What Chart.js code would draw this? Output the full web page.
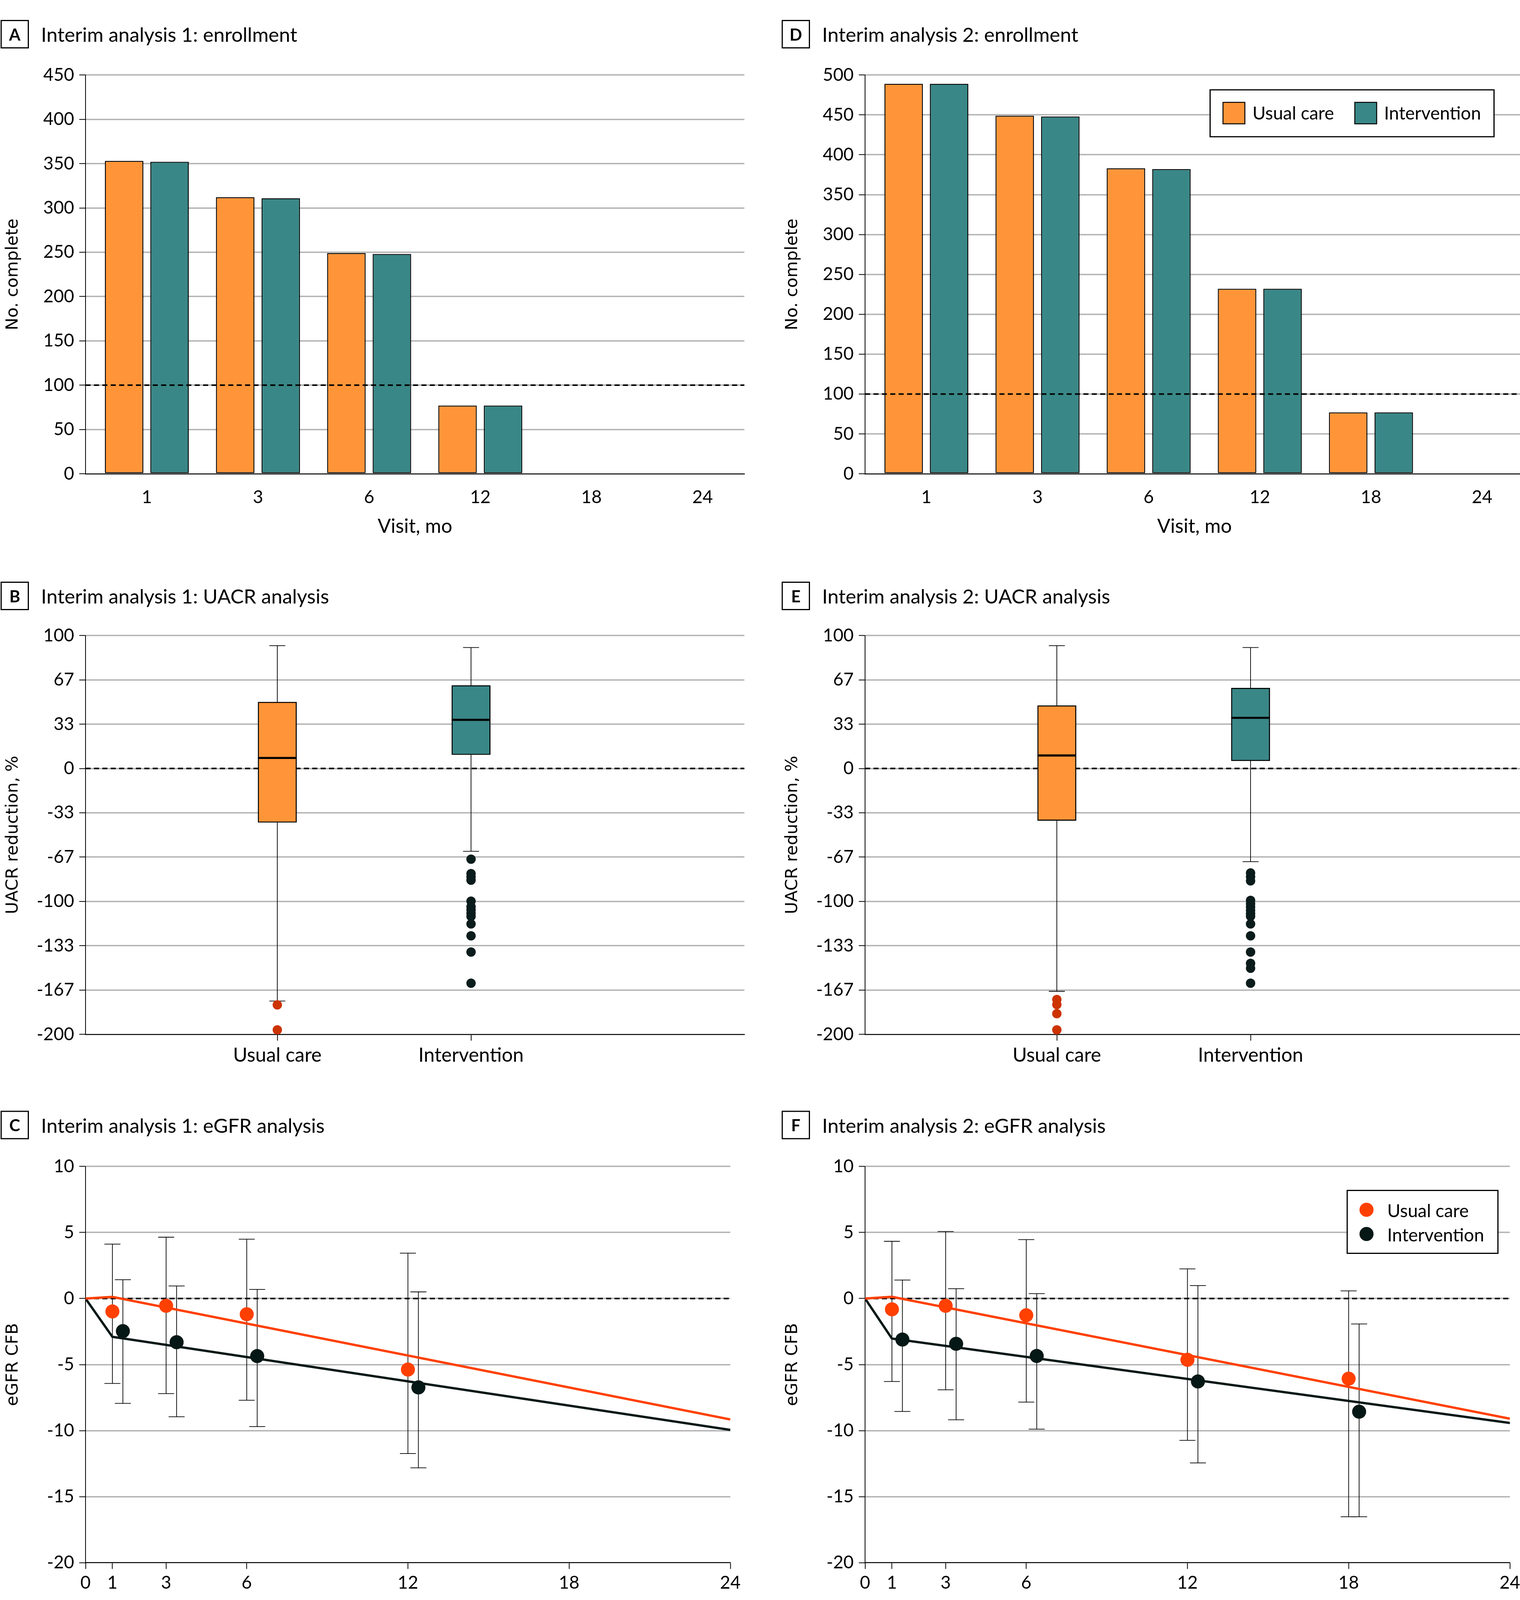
<!DOCTYPE html>
<html><head><meta charset="utf-8">
<script src="https://cdn.jsdelivr.net/npm/chart.js@4.4.1/dist/chart.umd.min.js"></script>
<style>
html,body{margin:0;padding:0;background:#fff;}
#page{position:relative;width:3892px;height:4208px;overflow:hidden;background:#fff;}
#page canvas{position:absolute;}
#overlay{position:absolute;left:0;top:0;}
</style></head><body>
<div id="page">
<canvas id="cA"></canvas><canvas id="cB"></canvas><canvas id="cC"></canvas>
<canvas id="cD"></canvas><canvas id="cE"></canvas><canvas id="cF"></canvas>
<svg id="overlay" width="3892" height="4208" xmlns="http://www.w3.org/2000/svg"></svg>
</div>
<script>
// ================= DATA =================
const visits = ['1', '3', '6', '12', '18', '24'];
const enrollTicks1 = [0, 50, 100, 150, 200, 250, 300, 350, 400, 450];
const enrollTicks2 = [0, 50, 100, 150, 200, 250, 300, 350, 400, 450, 500];
const enrollUsual1 = [353, 312, 249, 77, 0, 0];
const enrollInterv1 = [352, 311, 248, 77, 0, 0];
const enrollUsual2 = [489, 449, 383, 232, 77, 0];
const enrollInterv2 = [489, 448, 382, 232, 77, 0];
const enrollTarget = 100;

const uacrGroups = ['Usual care', 'Intervention'];
const uacrTickLabels = ['-200', '-167', '-133', '-100', '-67', '-33', '0', '33', '67', '100'];
// interim 1: [usual care, intervention]
const uacr1Min = [-174.9, -62.3];
const uacr1Q1 = [-40.6, 10.3];
const uacr1Median = [7.9, 36.6];
const uacr1Q3 = [50.0, 62.5];
const uacr1Max = [92.4, 91.0];
const uacr1OutUsual = [-177.8, -196.6];
const uacr1OutInterv = [-68.2, -79.1, -81.6, -84.0, -99.8, -104.0, -106.4, -108.9, -111.3, -116.9, -125.9, -138.1, -161.5];
// interim 2
const uacr2Min = [-167.6, -70.1];
const uacr2Q1 = [-39.2, 5.7];
const uacr2Median = [9.8, 38.1];
const uacr2Q3 = [47.4, 60.5];
const uacr2Max = [92.4, 91.0];
const uacr2OutUsual = [-173.8, -177.6, -184.4, -196.6];
const uacr2OutInterv = [-78.6, -81.4, -84.5, -99.2, -101.7, -104.2, -106.7, -109.2, -111.2, -116.9, -125.9, -138.1, -146.6, -150.3, -161.5];

const egfrTicksX = [0, 1, 3, 6, 12, 18, 24];
const egfrTicksY = [-20, -15, -10, -5, 0, 5, 10];
const fitMonths = [0, 1, 24];
// interim 1
const egfr1Months = [1, 3, 6, 12];
const egfr1UsualMean = [-0.98, -0.55, -1.19, -5.38];
const egfr1UsualLo = [-6.43, -7.20, -7.70, -11.74];
const egfr1UsualHi = [4.12, 4.64, 4.49, 3.43];
const egfr1IntervMean = [-2.47, -3.31, -4.36, -6.73];
const egfr1IntervLo = [-7.94, -8.95, -9.70, -12.82];
const egfr1IntervHi = [1.42, 0.95, 0.69, 0.50];
const egfr1UsualFit = [0, 0.12, -9.16];
const egfr1IntervFit = [0, -2.90, -9.95];
// interim 2
const egfr2Months = [1, 3, 6, 12, 18];
const egfr2UsualMean = [-0.82, -0.55, -1.27, -4.64, -6.07];
const egfr2UsualLo = [-6.28, -6.91, -7.84, -10.74, -16.52];
const egfr2UsualHi = [4.33, 5.07, 4.46, 2.24, 0.58];
const egfr2IntervMean = [-3.11, -3.43, -4.35, -6.28, -8.57];
const egfr2IntervLo = [-8.55, -9.18, -9.89, -12.45, -16.52];
const egfr2IntervHi = [1.40, 0.74, 0.37, 0.98, -1.93];
const egfr2UsualFit = [0, 0.13, -9.10];
const egfr2IntervFit = [0, -3.03, -9.42];

// ================= STYLE =================
const TXT_FONT = 'Lato';
const AXT_FONT = 'DejaVu Sans';
const S_NUM = 45.5, S_CAT = 50, S_TITLE = 51, S_AXT = 43, S_XT = 50, S_MONTH = 48, S_LEG = 46, S_LBL = 42;
const ORANGE = '#FF9538', TEAL = '#3A8787', GRID = '#B3B3B3';
const OUT_U = '#CC3300', OUT_I = '#0A1C1B';
const EG_U = '#FF4000', EG_I = '#061816';
const DODGE = 0.39;

Chart.defaults.font.family = TXT_FONT;
Chart.defaults.color = '#000';

function place(id, left, top, w, h) {
  const c = document.getElementById(id);
  c.width = w; c.height = h;
  c.style.left = left + 'px'; c.style.top = top + 'px';
  c.style.width = w + 'px'; c.style.height = h + 'px';
  return c;
}
const numFont = {family: TXT_FONT, size: S_NUM, lineHeight: 1.2};
const catFont = {family: TXT_FONT, size: S_CAT, lineHeight: 1.2};
const axtFont = {family: AXT_FONT, size: S_AXT, lineHeight: 1.2};

function refLine(val, phase) {
  const draw = (chart) => {
    const {ctx, chartArea: a, scales: {y}} = chart;
    const py = y.getPixelForValue(val);
    ctx.save(); ctx.setLineDash([13, 8.5]); ctx.lineWidth = 4; ctx.strokeStyle = '#000';
    ctx.beginPath(); ctx.moveTo(a.left, py); ctx.lineTo(a.right, py); ctx.stroke(); ctx.restore();
  };
  return phase === 'after' ? {id: 'refAfter', afterDatasetsDraw: draw} : {id: 'refBefore', beforeDatasetsDraw: draw};
}

function yAxis(ticks, labels, title, yMin, yMax) {
  return {
    min: yMin, max: yMax,
    afterBuildTicks: ax => { ax.ticks = ticks.map(v => ({value: v})); },
    ticks: {font: numFont, color: '#000', padding: 13, callback: (v, i) => labels[i]},
    grid: {color: c => c.index === 0 ? 'rgba(0,0,0,0)' : GRID, lineWidth: 3.5, drawTicks: true, tickLength: 16, tickColor: '#000', tickWidth: 2},
    border: {color: '#000', width: 2},
    title: {display: true, text: title, font: axtFont, color: '#000', padding: {top: 8, bottom: 0}},
    afterFit: s => { s.width = 219; }
  };
}
const baseOpts = {responsive: false, animation: false, devicePixelRatio: 1, events: []};

// ---------- enrollment ----------
function enrollChart(id, left, top, usual, interv, yTicks) {
  const c = place(id, left, top, 1930, 1393);
  const ds = (lab, vals, col) => ({label: lab, data: visits.map((v, i) => ({x: i, y: vals[i]})),
    backgroundColor: col, borderColor: '#000', borderWidth: 2.5, borderSkipped: false,
    categoryPercentage: 0.819, barPercentage: 0.845});
  return new Chart(c, {
    type: 'bar',
    data: {datasets: [ds('Usual care', usual, ORANGE), ds('Intervention', interv, TEAL)]},
    options: Object.assign({}, baseOpts, {
      layout: {padding: {left: 0, right: 24, top: 52, bottom: 0}},
      plugins: {legend: {display: false}, tooltip: {enabled: false}},
      scales: {
        x: {type: 'linear', min: -0.5517, max: 5.376, offset: false,
          afterBuildTicks: ax => { ax.ticks = visits.map((v, i) => ({value: i})); },
          ticks: {callback: (v, i) => visits[i], font: numFont, color: '#000', padding: 25, maxRotation: 0, autoSkip: false},
          grid: {display: false, offset: false},
          border: {display: true, color: '#000', width: 2.5},
          title: {display: true, text: 'Visit, mo', color: '#000', font: {family: TXT_FONT, size: S_XT, lineHeight: 1.2}, padding: {top: 0, bottom: 155}},
          afterFit: s => { s.height = 320; }},
        y: yAxis(yTicks, yTicks.map(String), 'No. complete', 0, yTicks[yTicks.length - 1])
      }
    }),
    plugins: [refLine(enrollTarget, 'after')]
  });
}

// ---------- UACR box plots ----------
function boxPlugin(mn, q1, med, q3, mx) {
  return {
    id: 'boxWhisk',
    beforeDatasetsDraw(chart) {
      const {ctx, scales: {x, y}} = chart;
      ctx.save(); ctx.strokeStyle = '#000'; ctx.lineWidth = 1.8;
      mn.forEach((v, i) => {
        const px = x.getPixelForValue(i);
        ctx.beginPath();
        ctx.moveTo(px, y.getPixelForValue(q3[i])); ctx.lineTo(px, y.getPixelForValue(mx[i]));
        ctx.moveTo(px, y.getPixelForValue(q1[i])); ctx.lineTo(px, y.getPixelForValue(v));
        ctx.moveTo(px - 20.5, y.getPixelForValue(mx[i])); ctx.lineTo(px + 20.5, y.getPixelForValue(mx[i]));
        ctx.moveTo(px - 20.5, y.getPixelForValue(v)); ctx.lineTo(px + 20.5, y.getPixelForValue(v));
        ctx.stroke();
      });
      ctx.restore();
    },
    afterDatasetsDraw(chart) {
      const {ctx, scales: {x, y}} = chart;
      ctx.save(); ctx.strokeStyle = '#000'; ctx.lineWidth = 5.3;
      med.forEach((v, i) => {
        const px = x.getPixelForValue(i), py = y.getPixelForValue(v);
        ctx.beginPath(); ctx.moveTo(px - 49.5, py); ctx.lineTo(px + 49.5, py); ctx.stroke();
      });
      ctx.restore();
    }
  };
}
function uacrChart(id, left, top, mn, q1, med, q3, mx, outU, outI) {
  const c = place(id, left, top, 1930, 1220);
  const uTicks = uacrTickLabels.map((l, i) => -200 + i * 100 / 3);
  return new Chart(c, {
    type: 'bar',
    data: {datasets: [
      {type: 'scatter', data: outU.map(v => ({x: 0, y: v})), backgroundColor: OUT_U, pointRadius: 12, pointBorderWidth: 0},
      {type: 'scatter', data: outI.map(v => ({x: 1, y: v})), backgroundColor: OUT_I, pointRadius: 12, pointBorderWidth: 0},
      {type: 'bar', data: uacrGroups.map((g, i) => ({x: i, y: [q1[i], q3[i]]})), backgroundColor: [ORANGE, TEAL],
        borderColor: '#000', borderWidth: 2.7, borderSkipped: false, barThickness: 99}
    ]},
    options: Object.assign({}, baseOpts, {
      layout: {padding: {left: 0, right: 24, top: 49, bottom: 0}},
      plugins: {legend: {display: false}, tooltip: {enabled: false}},
      scales: {
        x: {type: 'linear', min: -0.99, max: 2.411, offset: false,
          afterBuildTicks: ax => { ax.ticks = uacrGroups.map((g, i) => ({value: i})); },
          ticks: {callback: (v, i) => uacrGroups[i], font: catFont, color: '#000', padding: 8, maxRotation: 0, autoSkip: false},
          grid: {display: true, drawOnChartArea: false, drawTicks: true, tickLength: 16, tickColor: '#000', tickWidth: 2, offset: false},
          border: {display: true, color: '#000', width: 2.5},
          afterFit: s => { s.height = 150; }},
        y: yAxis(uTicks, uacrTickLabels, 'UACR reduction, %', -200, 100)
      }
    }),
    plugins: [refLine(0, 'before'), boxPlugin(mn, q1, med, q3, mx)]
  });
}

// ---------- eGFR ----------
function errPlugin(series) {
  return {
    id: 'errBars',
    beforeDatasetsDraw(chart) {
      const {ctx, scales: {x, y}} = chart;
      ctx.save(); ctx.strokeStyle = '#000'; ctx.lineWidth = 1.8;
      series.forEach(s => {
        s.months.forEach((m, i) => {
          const px = x.getPixelForValue(m + s.dodge);
          const pl = y.getPixelForValue(s.lo[i]), ph = y.getPixelForValue(s.hi[i]);
          ctx.beginPath();
          ctx.moveTo(px, pl); ctx.lineTo(px, ph);
          ctx.moveTo(px - 20.5, pl); ctx.lineTo(px + 20.5, pl);
          ctx.moveTo(px - 20.5, ph); ctx.lineTo(px + 20.5, ph);
          ctx.stroke();
        });
      });
      ctx.restore();
    }
  };
}
function egfrChart(id, left, top, months, uM, uLo, uHi, iM, iLo, iHi, uFit, iFit) {
  const c = place(id, left, top, 1930, 1278);
  return new Chart(c, {
    type: 'scatter',
    data: {datasets: [
      {data: months.map((m, i) => ({x: m, y: uM[i]})), backgroundColor: EG_U, pointRadius: 18, pointBorderWidth: 0},
      {data: months.map((m, i) => ({x: m + DODGE, y: iM[i]})), backgroundColor: EG_I, pointRadius: 18, pointBorderWidth: 0},
      {data: fitMonths.map((m, i) => ({x: m, y: uFit[i]})), showLine: true, borderColor: EG_U, borderWidth: 6, pointRadius: 0, borderJoinStyle: 'miter'},
      {data: fitMonths.map((m, i) => ({x: m, y: iFit[i]})), showLine: true, borderColor: EG_I, borderWidth: 6, pointRadius: 0, borderJoinStyle: 'miter'}
    ]},
    options: Object.assign({}, baseOpts, {
      layout: {padding: {left: 0, right: 60, top: 56, bottom: 0}},
      plugins: {legend: {display: false}, tooltip: {enabled: false}},
      scales: {
        x: {type: 'linear', min: 0, max: 24,
          afterBuildTicks: ax => { ax.ticks = egfrTicksX.map(v => ({value: v})); },
          ticks: {font: numFont, color: '#000', padding: 9, maxRotation: 0, autoSkip: false, callback: (v, i) => String(egfrTicksX[i])},
          grid: {display: true, drawOnChartArea: false, drawTicks: true, tickLength: 16, tickColor: '#000', tickWidth: 2},
          border: {display: true, color: '#000', width: 2.5},
          title: {display: true, text: 'Month', color: '#000', font: {family: TXT_FONT, size: S_MONTH, lineHeight: 1.2}, padding: {top: 0, bottom: 52}},
          afterFit: s => { s.height = 207.5; }},
        y: yAxis(egfrTicksY, egfrTicksY.map(String), 'eGFR CFB', -20, 10)
      }
    }),
    plugins: [refLine(0, 'before'), errPlugin([
      {months: months, dodge: 0, lo: uLo, hi: uHi},
      {months: months, dodge: DODGE, lo: iLo, hi: iHi}
    ])]
  });
}

// ---------- overlay text ----------
const NS = 'http://www.w3.org/2000/svg';
const svg = document.getElementById('overlay');
function el(tag, attrs, text) {
  const e = document.createElementNS(NS, tag);
  for (const k in attrs) e.setAttribute(k, attrs[k]);
  if (text !== undefined) e.textContent = text;
  svg.appendChild(e); return e;
}
const panels = [
  {L: 'A', t: 'Interim analysis 1: enrollment', dx: 0, dy: 0},
  {L: 'B', t: 'Interim analysis 1: UACR analysis', dx: 0, dy: 1438},
  {L: 'C', t: 'Interim analysis 1: eGFR analysis', dx: 0, dy: 2792.5},
  {L: 'D', t: 'Interim analysis 2: enrollment', dx: 2000, dy: 0},
  {L: 'E', t: 'Interim analysis 2: UACR analysis', dx: 2000, dy: 1438},
  {L: 'F', t: 'Interim analysis 2: eGFR analysis', dx: 2000, dy: 2792.5}
];

function build() {
  enrollChart('cA', 0, 140, enrollUsual1, enrollInterv1, enrollTicks1);
  enrollChart('cD', 1996, 140, enrollUsual2, enrollInterv2, enrollTicks2);
  uacrChart('cB', 0, 1578, uacr1Min, uacr1Q1, uacr1Median, uacr1Q3, uacr1Max, uacr1OutUsual, uacr1OutInterv);
  uacrChart('cE', 1996, 1578, uacr2Min, uacr2Q1, uacr2Median, uacr2Q3, uacr2Max, uacr2OutUsual, uacr2OutInterv);
  egfrChart('cC', 0, 2930, egfr1Months, egfr1UsualMean, egfr1UsualLo, egfr1UsualHi, egfr1IntervMean, egfr1IntervLo, egfr1IntervHi, egfr1UsualFit, egfr1IntervFit);
  egfrChart('cF', 1996, 2930, egfr2Months, egfr2UsualMean, egfr2UsualLo, egfr2UsualHi, egfr2IntervMean, egfr2IntervLo, egfr2IntervHi, egfr2UsualFit, egfr2IntervFit);

  panels.forEach(p => {
    el('rect', {x: 3 + p.dx, y: 52.5 + p.dy, width: 69.5, height: 70, fill: '#fff', stroke: '#000', 'stroke-width': 3});
    el('text', {x: 37.75 + p.dx, y: 103.6 + p.dy, 'text-anchor': 'middle', 'font-family': TXT_FONT, 'font-weight': 'bold', 'font-size': S_LBL, fill: '#000'}, p.L);
    el('text', {x: 105 + p.dx, y: 107 + p.dy, 'font-family': TXT_FONT, 'font-size': S_TITLE, fill: '#000'}, p.t);
  });
  // legend D
  el('rect', {x: 3098.5, y: 230, width: 727, height: 120, fill: '#fff', stroke: '#000', 'stroke-width': 3});
  el('rect', {x: 3131.5, y: 262, width: 56, height: 55, fill: ORANGE, stroke: '#000', 'stroke-width': 2.5});
  el('rect', {x: 3469, y: 262, width: 56, height: 55, fill: TEAL, stroke: '#000', 'stroke-width': 2.5});
  el('text', {x: 3207, y: 306, 'font-family': TXT_FONT, 'font-size': S_LEG, fill: '#000'}, uacrGroups[0]);
  el('text', {x: 3544, y: 306, 'font-family': TXT_FONT, 'font-size': S_LEG, fill: '#000'}, uacrGroups[1]);
  // legend F
  el('rect', {x: 3449.5, y: 3047.5, width: 386, height: 161, fill: '#fff', stroke: '#000', 'stroke-width': 3});
  el('circle', {cx: 3499, cy: 3097, r: 18, fill: EG_U});
  el('circle', {cx: 3499, cy: 3159, r: 18, fill: EG_I});
  el('text', {x: 3552, y: 3116, 'font-family': TXT_FONT, 'font-size': S_LEG, fill: '#000'}, uacrGroups[0]);
  el('text', {x: 3552, y: 3178, 'font-family': TXT_FONT, 'font-size': S_LEG, fill: '#000'}, uacrGroups[1]);
}
if (document.fonts && document.fonts.ready) { document.fonts.ready.then(build); } else { build(); }
</script>
</body></html>
